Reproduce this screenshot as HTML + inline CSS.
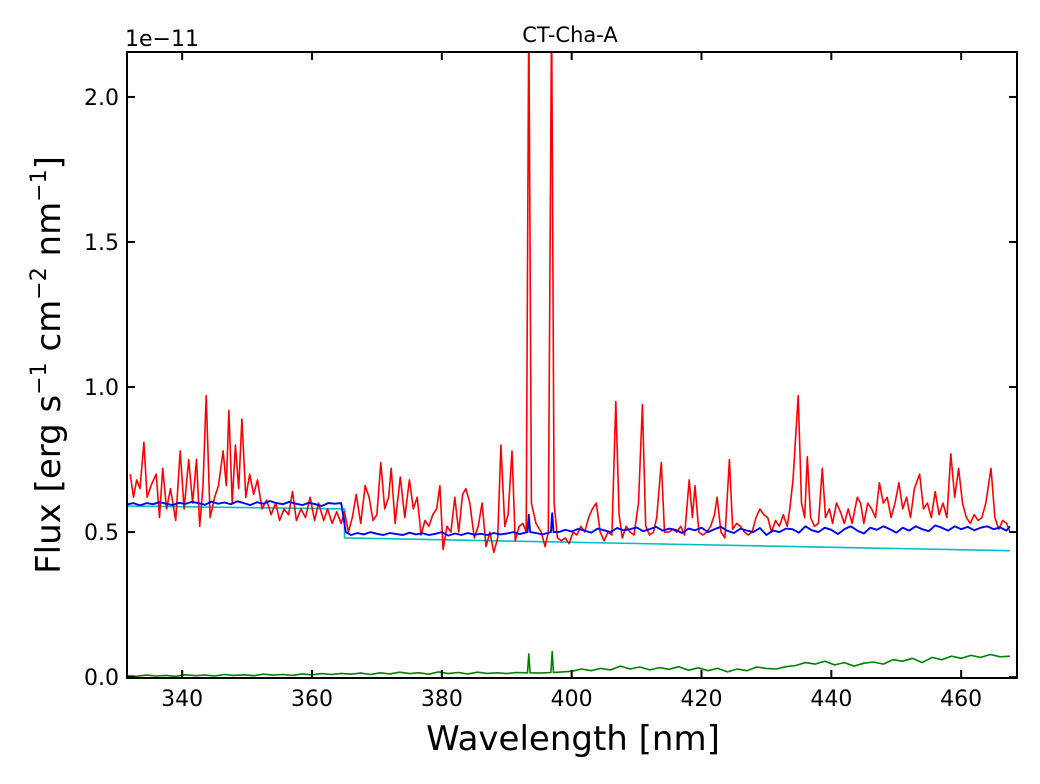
<!DOCTYPE html>
<html><head><meta charset="utf-8"><style>
body{margin:0;background:#fff;font-family:"DejaVu Sans","Liberation Sans",sans-serif;}
</style></head><body>
<svg id="chart" width="1040" height="780" xmlns="http://www.w3.org/2000/svg">
<defs><clipPath id="clip"><rect x="127" y="52" width="890" height="626"/></clipPath></defs>
<rect width="1040" height="780" fill="#fff"/>
<g id="series" clip-path="url(#clip)"></g>
<rect x="127" y="52" width="890" height="626" fill="none" stroke="#000" stroke-width="2"/>
<g id="ticks"></g>
<text x="570" y="42" text-anchor="middle" font-size="21">CT-Cha-A</text>
<text x="125" y="46" font-size="22">1e−11</text>
<text x="573" y="750" text-anchor="middle" font-size="34">Wavelength [nm]</text>
<text transform="translate(60,365) rotate(-90)" text-anchor="middle" font-size="34">Flux [erg s<tspan dy="-14" font-size="22">−1</tspan><tspan dy="14">  cm</tspan><tspan dy="-14" font-size="22">−2</tspan><tspan dy="14">  nm</tspan><tspan dy="-14" font-size="22">−1</tspan><tspan dy="14">]</tspan></text>
</svg>
<script>
const xTicks=[340,360,380,400,420,440,460];
const yTicks=[0.0,0.5,1.0,1.5,2.0];
const redWl=[332,332.5,333,333.5,334.1,334.6,335.2,336,336.5,337,337.6,338.2,339,339.7,340.3,341,341.6,342.2,342.7,343.2,343.7,344.3,345,345.6,346.3,346.8,347.2,347.7,348.2,348.7,349.2,349.8,350.4,351,351.6,352.3,353,353.7,354.4,355,355.7,356.4,357,357.6,358.3,359,359.7,360.4,361,361.8,362.4,363.1,363.8,364.5,365,365.6,366.2,366.8,367.5,368.2,368.8,369.4,370,370.6,371.2,371.8,372.2,372.8,373.6,374.3,375,375.6,376.2,376.8,377.4,378,378.6,379.2,379.7,380.2,380.8,381.4,382,382.6,383.2,383.7,384.3,385,385.6,386.2,386.8,387.4,388,388.6,389.1,389.7,390.2,390.8,391.3,391.9,392.5,393,393.4,393.8,394.5,395.3,395.9,396.4,396.9,397.3,397.8,398.4,399,399.6,400.2,400.8,401.4,402,402.6,403.2,403.8,404.4,405,405.6,406.2,406.8,407.3,407.8,408.4,409,409.6,410.3,410.9,411.4,412,412.6,413.1,413.8,414.3,415,415.6,416.2,416.8,417.4,418.1,418.6,419,419.6,420.2,420.8,421.4,422,422.4,423,423.6,424.3,424.8,425.4,426,426.6,427.2,427.8,428.4,429,429.6,430.2,430.8,431.4,432,432.6,433.2,433.6,434.1,434.9,435.4,435.9,436.3,436.8,437.4,438,438.6,439.1,439.7,440.2,440.8,441.4,442,442.6,443.2,444,444.5,445,445.6,446.2,446.8,447.4,448,448.6,449.2,449.8,450.4,451,451.6,452.2,452.8,453.6,454.2,454.8,455.4,456,456.6,457.2,457.8,458.4,459,459.6,460.2,460.8,461.4,462,462.6,463.2,463.8,464.6,465.2,465.8,466.4,467,467.5];
const redFlux=[0.7,0.62,0.68,0.65,0.81,0.62,0.66,0.7,0.55,0.72,0.58,0.65,0.54,0.78,0.58,0.75,0.6,0.75,0.52,0.66,0.97,0.55,0.62,0.66,0.78,0.66,0.92,0.6,0.8,0.65,0.89,0.62,0.7,0.63,0.68,0.58,0.61,0.56,0.6,0.54,0.58,0.56,0.64,0.54,0.58,0.55,0.62,0.54,0.6,0.54,0.58,0.53,0.57,0.53,0.57,0.5,0.55,0.63,0.53,0.66,0.62,0.54,0.56,0.74,0.58,0.62,0.72,0.53,0.69,0.55,0.68,0.58,0.62,0.49,0.54,0.52,0.56,0.58,0.66,0.44,0.52,0.5,0.62,0.5,0.63,0.65,0.6,0.48,0.52,0.6,0.45,0.5,0.43,0.48,0.8,0.52,0.56,0.78,0.47,0.52,0.53,0.5,2.3,0.6,0.53,0.5,0.45,0.5,2.3,0.6,0.48,0.47,0.48,0.46,0.5,0.49,0.52,0.5,0.55,0.58,0.6,0.5,0.47,0.5,0.49,0.95,0.56,0.48,0.52,0.5,0.49,0.6,0.94,0.52,0.49,0.5,0.55,0.74,0.5,0.5,0.51,0.5,0.52,0.49,0.68,0.55,0.66,0.5,0.49,0.5,0.52,0.56,0.62,0.5,0.48,0.75,0.51,0.53,0.52,0.5,0.49,0.5,0.55,0.58,0.56,0.55,0.5,0.54,0.52,0.56,0.52,0.58,0.68,0.97,0.6,0.55,0.76,0.55,0.52,0.53,0.72,0.55,0.58,0.53,0.6,0.57,0.53,0.58,0.53,0.62,0.6,0.53,0.6,0.58,0.55,0.67,0.6,0.62,0.55,0.6,0.67,0.58,0.62,0.55,0.65,0.7,0.58,0.6,0.55,0.64,0.56,0.6,0.55,0.77,0.62,0.72,0.6,0.55,0.53,0.56,0.54,0.55,0.6,0.72,0.55,0.51,0.54,0.53,0.5];
const blueWl=[331.5,332.5,333.5,334.5,335.5,336.5,337.5,338.5,339.5,340.5,341.5,342.5,343.5,344.5,345.5,346.5,347.5,348.5,349.5,350.5,351.5,352.5,353.5,354.5,355.5,356.5,357.5,358.5,359.5,360.5,361.5,362.5,363.5,364.5,365.2,366,367,368,369,370,371,372,373,374,375,376,377,378,379,380,381,382,383,384,385,386,387,388,389,390,391,392,393.2,393.4,393.6,394.5,395.5,396.8,397,397.2,398,399,400,401,402,403,404,405,406,407,408,409,410,411,412,413,414,415,416,417,418,419,420,421,422,423,424,425,426,427,428,429,430,431,432,433,434,435,436,437,438,439,440,441,442,443,444,445,446,447,448,449,450,451,452,453,454,455,456,457,458,459,460,461,462,463,464,465,466,467,467.5];
const blueFlux=[0.595,0.6,0.592,0.6,0.596,0.603,0.598,0.593,0.601,0.597,0.604,0.6,0.594,0.605,0.598,0.602,0.596,0.606,0.6,0.593,0.603,0.598,0.607,0.6,0.596,0.604,0.598,0.593,0.601,0.596,0.59,0.6,0.598,0.6,0.5,0.49,0.497,0.492,0.5,0.494,0.49,0.497,0.493,0.49,0.498,0.492,0.496,0.49,0.494,0.5,0.488,0.495,0.49,0.497,0.491,0.494,0.49,0.497,0.492,0.495,0.5,0.493,0.5,0.56,0.5,0.497,0.492,0.5,0.565,0.5,0.5,0.508,0.502,0.511,0.505,0.498,0.512,0.506,0.5,0.514,0.506,0.51,0.516,0.503,0.51,0.518,0.505,0.512,0.508,0.497,0.512,0.506,0.515,0.5,0.51,0.518,0.504,0.497,0.512,0.505,0.5,0.514,0.49,0.505,0.5,0.512,0.51,0.498,0.52,0.506,0.5,0.515,0.508,0.493,0.51,0.52,0.505,0.495,0.515,0.508,0.52,0.51,0.498,0.515,0.505,0.52,0.51,0.503,0.523,0.515,0.505,0.52,0.51,0.518,0.506,0.515,0.52,0.51,0.516,0.505,0.52,0.512,0.5];
const contWl=[331.5,365,365.01,467.5];
const contFlux=[0.59,0.58,0.48,0.436];
const greenWl=[331.5,333,334.5,336,337.5,339,340.5,342,343.5,345,346.5,348,349.5,351,352.5,354,355.5,357,358.5,360,361.5,363,364.5,366,367.5,369,370.5,372,373.5,375,376.5,378,379.5,381,382.5,384,385.5,387,388.5,390,391.5,393.2,393.4,393.6,395,396.8,397,397.2,398.5,400,401.5,403,404.5,406,407.5,409,410.5,412,413.5,415,416.5,418,419.5,421,422.5,424,425.5,427,428.5,430,431.5,433,434.5,436,437.5,439,440.5,442,443.5,445,446.5,448,449.5,451,452.5,454,455.5,457,458.5,460,461.5,463,464.5,466,467.5];
const greenFlux=[0.005,0.003,0.007,0.004,0.006,0.003,0.008,0.005,0.007,0.004,0.009,0.006,0.008,0.005,0.01,0.007,0.009,0.006,0.011,0.008,0.012,0.009,0.013,0.01,0.014,0.009,0.015,0.011,0.017,0.012,0.015,0.01,0.018,0.012,0.016,0.011,0.017,0.013,0.015,0.012,0.016,0.015,0.08,0.015,0.014,0.016,0.088,0.016,0.018,0.02,0.028,0.022,0.03,0.025,0.038,0.028,0.035,0.025,0.033,0.027,0.036,0.024,0.032,0.022,0.03,0.018,0.028,0.022,0.035,0.03,0.028,0.036,0.04,0.05,0.045,0.055,0.042,0.05,0.038,0.048,0.052,0.045,0.06,0.055,0.065,0.05,0.068,0.06,0.072,0.065,0.075,0.068,0.078,0.07,0.072];
const X0=331.5,X1=468.6,Y0=-0.003,Y1=2.155;
const PL=127,PR=1017,PT=52,PB=678;
function xs(v){return PL+(v-X0)/(X1-X0)*(PR-PL);}
function ys(v){return PB-(v-Y0)/(Y1-Y0)*(PB-PT);}
const NS='http://www.w3.org/2000/svg';
const g=document.getElementById('series');
function line(wl,fl,color,name,w){
  const p=document.createElementNS(NS,'polyline');
  p.setAttribute('points',wl.map((x,i)=>xs(x).toFixed(1)+','+ys(fl[i]).toFixed(1)).join(' '));
  p.setAttribute('fill','none');p.setAttribute('stroke',color);p.setAttribute('stroke-width',w);
  p.setAttribute('stroke-linejoin','round');
  
  
  g.appendChild(p);
}
line(greenWl,greenFlux,'#008000','green-series',1.6);
line(contWl,contFlux,'#00bfbf','cyan-continuum',1.6);
line(redWl,redFlux,'#ff0000','red-spectrum',1.6);
line(blueWl,blueFlux,'#0000ff','blue-model',1.9);
const t=document.getElementById('ticks');
function el(tag,attrs){const e=document.createElementNS(NS,tag);for(const k in attrs)e.setAttribute(k,attrs[k]);t.appendChild(e);return e;}
xTicks.forEach(v=>{
  const x=xs(v);
  const a=el('line',{x1:x,x2:x,y1:PB,y2:PB-8,stroke:'#000','stroke-width':2});
  
  
  const b=el('line',{x1:x,x2:x,y1:PT,y2:PT+8,stroke:'#000','stroke-width':2});
  
  
  const tx=el('text',{x:x,y:706,'text-anchor':'middle','font-size':22});
  tx.textContent=v;
  
  
});
yTicks.forEach(v=>{
  const y=ys(v);
  const a=el('line',{x1:PL,x2:PL+8,y1:y,y2:y,stroke:'#000','stroke-width':2});
  
  
  const b=el('line',{x1:PR,x2:PR-8,y1:y,y2:y,stroke:'#000','stroke-width':2});
  
  
  const tx=el('text',{x:119,y:y+8,'text-anchor':'end','font-size':22});
  tx.textContent=v.toFixed(1);
  
  
});
</script>
</body></html>
